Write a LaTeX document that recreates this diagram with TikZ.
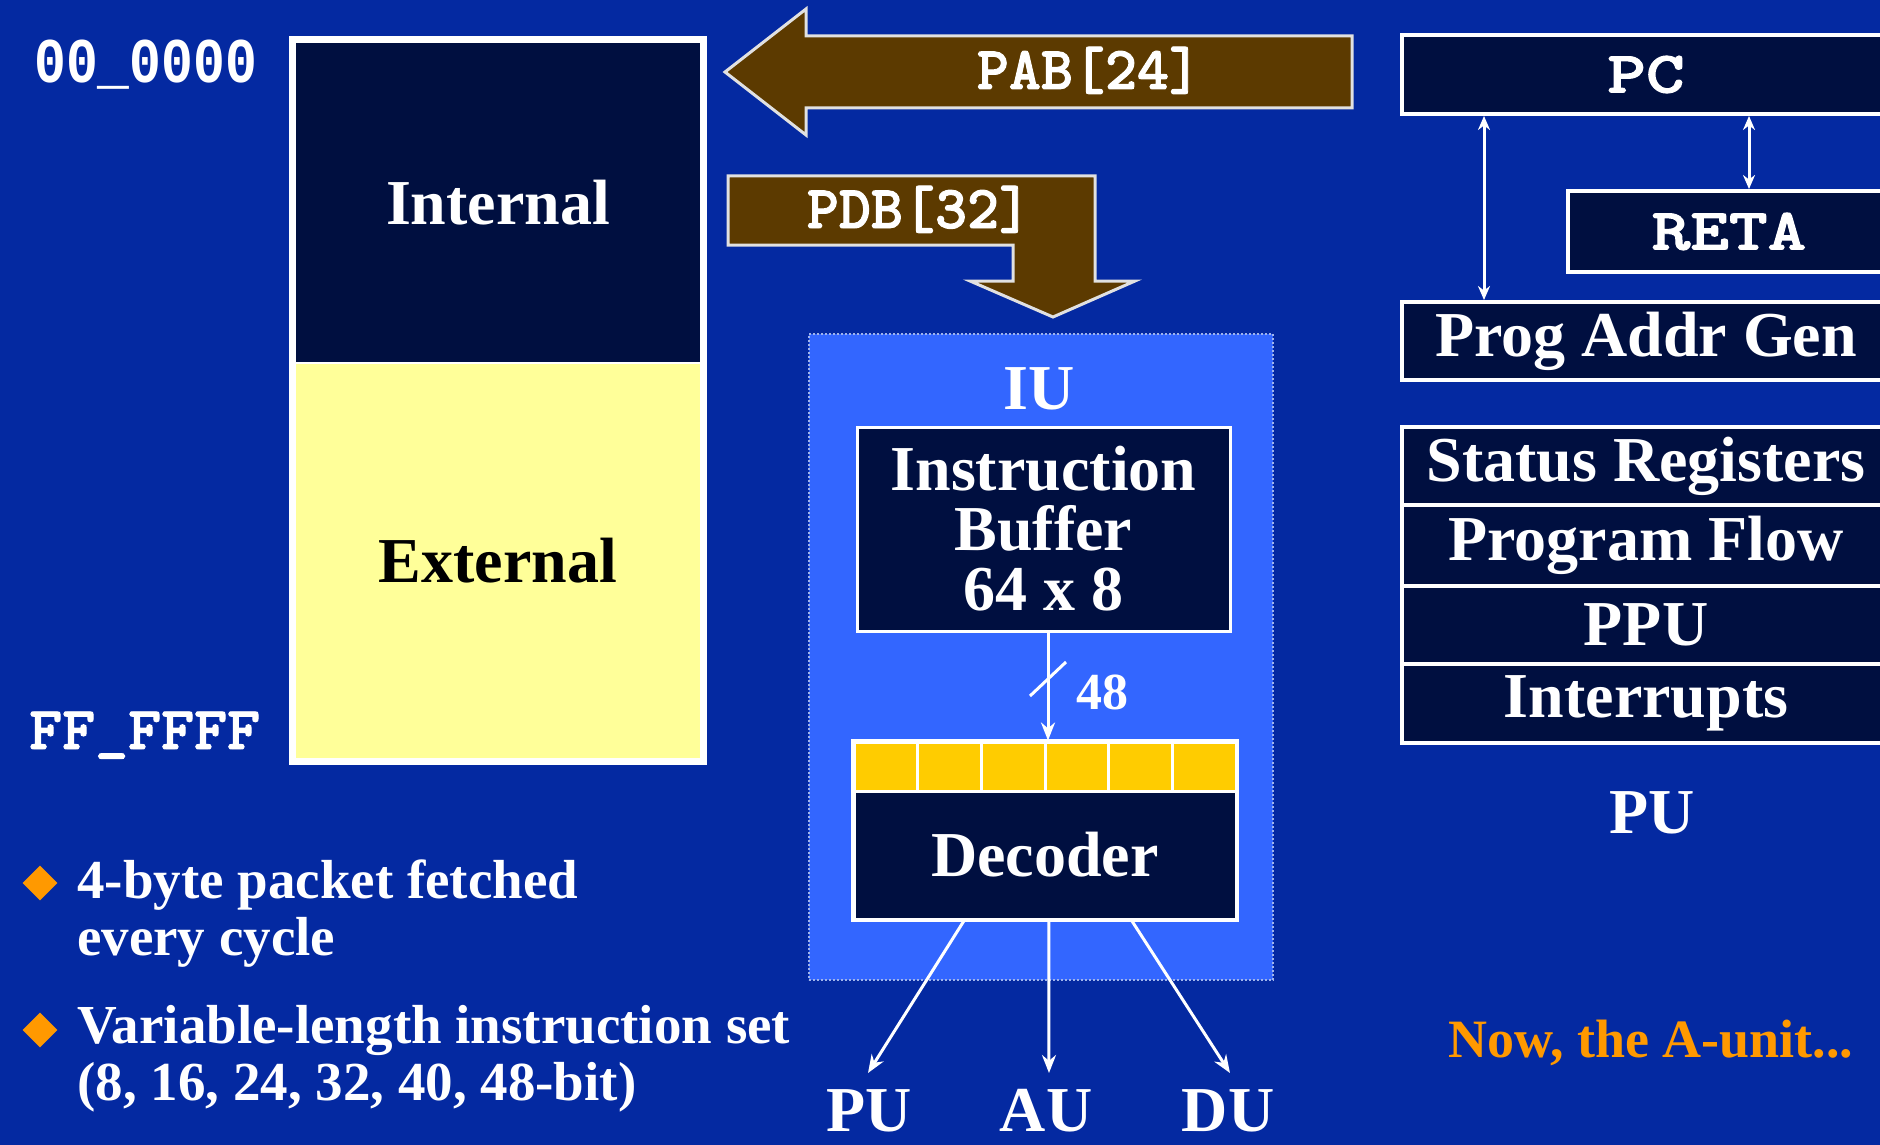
\documentclass[tikz,border=0pt]{standalone}
\usepackage{fontspec}
\setmainfont{Liberation Serif}
\newfontfamily\monofont{Liberation Mono}
\newfontfamily\courfont[FakeBold=1.6]{lmmonolt10-bold.otf}
\usetikzlibrary{arrows.meta,calc,shapes.geometric}
\definecolor{bg}{RGB}{4,41,161}
\definecolor{navy}{RGB}{0,15,64}
\definecolor{iublue}{RGB}{51,102,255}
\definecolor{iuedge}{RGB}{160,180,235}
\definecolor{memyellow}{RGB}{255,255,153}
\definecolor{decyellow}{RGB}{255,204,0}
\definecolor{busbrown}{RGB}{92,58,0}
\definecolor{busedge}{RGB}{225,225,225}
\definecolor{orangetxt}{RGB}{255,153,0}
\begin{document}
\begin{tikzpicture}[x=1pt,y=-1pt,
  serif/.style={font=\fontsize{64}{60}\selectfont\bfseries},
  bullettxt/.style={font=\fontsize{55}{57}\selectfont\bfseries, text=white, align=left, inner sep=0pt, anchor=base west},
  monolab/.style={text=white, inner sep=0pt, font=\fontsize{53}{60}\selectfont\monofont\bfseries},
  courlab/.style={text=white, inner sep=0pt, font=\fontsize{61}{61}\selectfont\courfont},
  regbox/.style={draw=white, line width=4pt, fill=navy, text=white, inner sep=0pt, serif},
  busarrow/.style={fill=busbrown, draw=busedge, line width=3pt, line join=miter},
  wire/.style={draw=white, line width=3pt, -{Stealth[length=18pt,width=14pt]}},
  dwire/.style={draw=white, line width=3pt, {Stealth[length=14pt,width=12pt]}-{Stealth[length=14pt,width=12pt]}},
  bulletmark/.style={diamond, aspect=1, fill=orangetxt, minimum size=35pt, inner sep=0pt}
]
\fill[bg] (0,0) rectangle (1880,1145);
\useasboundingbox (0,0) rectangle (1880,1145);

% address labels
\node[monolab, anchor=base west] (addrlo) at (34,83) {\scalebox{1}[1.2]{00\_0000}};
\node[courlab, anchor=base west] (addrhi) at (29,749) {\scalebox{1.03}[1]{FF\_FFFF}};

% memory
\node[fill=navy, text=white, serif, minimum width=404pt, minimum height=320pt, inner sep=0pt] (internal) at (498,203) {Internal};
\node[fill=memyellow, text=black, serif, minimum width=404pt, minimum height=395pt, inner sep=0pt] (external) at (498,560.5) {External};
\draw[white, line width=2.5pt] (internal.south west) -- (internal.south east);
\draw[white, line width=7pt] ($(internal.north west)+(-3.5,-3.5)$) rectangle ($(external.south east)+(3.5,3.5)$);

% buses
\draw[busarrow] (725,72) -- (806,9) -- (806,36) -- (1352,36) -- (1352,108) -- (806,108) -- (806,135) -- cycle;
\node[courlab, anchor=base] (pab) at (1089,89) {PAB[24]};
\draw[busarrow] (728,176) -- (1095,176) -- (1095,281) -- (1135,281) -- (1053,317) -- (970,281) -- (1013,281) -- (1013,245) -- (728,245) -- cycle;
\node[courlab, anchor=base] (pdb) at (919,228) {PDB[32]};

% IU
\node[fill=iublue, draw=iuedge, dotted, line width=2pt, minimum width=464pt, minimum height=646pt, inner sep=0pt] (iu) at (1041,657) {};
\node[serif, text=white, anchor=base, inner sep=0pt] (iulab) at (1039,409) {IU};
\node[regbox, line width=3pt, minimum width=373pt, minimum height=204pt, align=center] (ib) at (1043.5,529) {Instruction\\Buffer\\64 x 8};

\foreach \i in {0,...,5}
  \node[fill=decyellow, draw=white, line width=3pt, minimum width=63.67pt, minimum height=49pt, inner sep=0pt] (cell\i) at ({854+63.67*(\i+0.5)},766.5) {};
\node[regbox, line width=3pt, minimum width=382pt, minimum height=128pt] (dec) at (1045,855) {Decoder};
\draw[white, line width=3pt] (cell0.north west) rectangle (dec.south east);

\coordinate (busx) at (1048,0);
\draw[wire] (busx |- ib.south) -- (busx |- cell0.north);
\draw[white, line width=3pt] (1030,696) -- (1066,662);
\node[font=\fontsize{52}{52}\selectfont\bfseries, text=white, anchor=base, inner sep=0pt] (w48) at (1102,709) {48};

\coordinate (opu) at (868,1073);
\coordinate (oau) at (1049,1073);
\coordinate (odu) at (1230,1073);
\draw[wire] ($(dec.south west)!0.29!(dec.south east)$) -- (opu);
\draw[wire] ($(dec.south west)!0.51!(dec.south east)$) -- (oau);
\draw[wire] ($(dec.south west)!0.725!(dec.south east)$) -- (odu);
\node[serif, text=white, anchor=base, inner sep=0pt] (lpu) at (869,1131) {PU};
\node[serif, text=white, anchor=base, inner sep=0pt] (lau) at (1046,1131) {AU};
\node[serif, text=white, anchor=base, inner sep=0pt] (ldu) at (1228,1131) {DU};

% PU side
\node[regbox, font=\fontsize{64}{64}\selectfont\courfont, minimum width=488pt, minimum height=79pt] (pc) at (1646,74.5) {\scalebox{1.15}[0.92]{PC}};
\node[regbox, font=\fontsize{64}{64}\selectfont\courfont, minimum width=322pt, minimum height=81pt] (reta) at (1729,231.5) {\scalebox{1.15}[0.92]{RETA}};
\node[regbox, minimum width=488pt, minimum height=78pt] (pag) at (1646,341) {Prog Addr Gen};
\coordinate (lx) at (1484,0);
\coordinate (rx) at (1749,0);
\draw[dwire] (lx |- pc.south) -- (lx |- pag.north);
\draw[dwire] (rx |- pc.south) -- (rx |- reta.north);

\node[regbox, minimum width=488pt, minimum height=78pt] (status) at (1646,466) {Status Registers};
\node[regbox, minimum width=488pt, minimum height=81pt] (flow) at (1646,545.5) {Program Flow};
\node[regbox, minimum width=488pt, minimum height=78pt] (ppu) at (1646,625) {PPU};
\node[regbox, minimum width=488pt, minimum height=79pt] (intr) at (1646,703.5) {Interrupts};
\node[serif, text=white, anchor=base, inner sep=0pt] (pulab) at (1652,833) {PU};
\node[font=\fontsize{54}{54}\selectfont\bfseries, text=orangetxt, anchor=base, inner sep=0pt] (now) at (1651,1057) {Now, the A-unit...};

% bullets
\node[bulletmark] (m1) at (40,883) {};
\node[bullettxt] (b1) at (77,955) {4-byte packet fetched\\every cycle};
\node[bulletmark] (m2) at (40,1030) {};
\node[bullettxt] (b2) at (77,1100) {Variable-length instruction set\\(8, 16, 24, 32, 40, 48-bit)};
\end{tikzpicture}
\end{document}
